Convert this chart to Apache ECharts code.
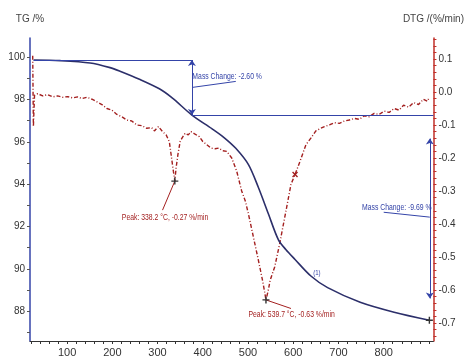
<!DOCTYPE html>
<html>
<head>
<meta charset="utf-8">
<script src="https://cdn.jsdelivr.net/npm/echarts@6/dist/echarts.min.js"></script>
<style>html,body{margin:0;padding:0;background:#fff}#c{width:467px;height:358px}</style>
</head>
<body>
<div id="c"></div>
<script>
// Temperature (°C) and TG (%)
const tgTemp = [26, 85, 151, 195, 217, 260, 304, 333, 376, 420, 447, 473, 501, 523, 545, 567, 584, 604, 639, 676, 748, 823, 901];
const tgVal  = [99.86, 99.83, 99.72, 99.50, 99.33, 98.95, 98.50, 98.06, 97.26, 96.62, 96.20, 95.69, 94.92, 93.84, 92.60, 91.38, 90.90, 90.44, 89.66, 89.11, 88.42, 87.95, 87.57];
// Temperature (°C) and DTG (%/min)
const dtgTemp = [24, 25.5, 28, 35, 46, 57, 68, 79, 90, 101, 112, 123, 133, 144, 155, 166, 177, 188, 199, 210, 221, 232, 243, 254, 265, 276, 287, 293, 302, 311, 319, 326, 330, 335, 338.2, 341, 345, 350, 354, 361, 368, 374, 383, 392, 400, 409, 418, 427, 435, 444, 453, 464, 475, 486, 494, 501, 512, 523, 532, 536, 539.7, 545, 549, 559, 570, 584, 595, 604, 615, 628, 639, 650, 661, 669, 680, 691, 702, 713, 724, 735, 746, 757, 768, 779, 790, 801, 812, 823, 834, 844, 855, 866, 877, 888, 897, 901];
const dtgVal  = [0.11, -0.105, -0.01, -0.005, -0.012, -0.008, -0.015, -0.012, -0.016, -0.014, -0.018, -0.015, -0.02, -0.016, -0.022, -0.03, -0.038, -0.05, -0.055, -0.068, -0.075, -0.085, -0.088, -0.1, -0.102, -0.11, -0.108, -0.118, -0.105, -0.12, -0.13, -0.15, -0.19, -0.24, -0.27, -0.23, -0.19, -0.15, -0.14, -0.125, -0.13, -0.12, -0.128, -0.135, -0.15, -0.16, -0.17, -0.172, -0.17, -0.178, -0.18, -0.2, -0.24, -0.30, -0.33, -0.37, -0.44, -0.51, -0.57, -0.60, -0.63, -0.60, -0.57, -0.53, -0.46, -0.36, -0.28, -0.25, -0.21, -0.16, -0.14, -0.118, -0.11, -0.105, -0.1, -0.093, -0.095, -0.088, -0.085, -0.08, -0.083, -0.072, -0.075, -0.065, -0.068, -0.058, -0.062, -0.05, -0.055, -0.04, -0.046, -0.032, -0.038, -0.022, -0.028, -0.015];
// Tick labels
const xLabels = [100, 200, 300, 400, 500, 600, 700, 800];
const tgLabels = [88, 90, 92, 94, 96, 98, 100];
const dtgLabels = [-0.7, -0.6, -0.5, -0.4, -0.3, -0.2, -0.1, 0.0, 0.1];
// Annotation values
const peak1 = [338.2, -0.27];
const peak2 = [539.7, -0.63];
const mass1 = { t: 376, from: 99.86, to: 97.26, text: 'Mass Change: -2.60 %' };
const mass2 = { t: 902, text: 'Mass Change: -9.69 %' };

const xTicks = []; for (let v = 20; v <= 900; v += 20) xTicks.push(v);
const tgTicks = []; for (let v = 87; v <= 100; v += 1) tgTicks.push(v);
const dtgTicks = []; for (let i = -37; i <= 8; i++) dtgTicks.push(+(i * 0.02).toFixed(2));

const BLUE = '#3444a8', RED = '#a31f1f', NAVY = '#2c2f6a';
const FONT = 'Arial, "Liberation Sans", sans-serif';
const PLUS = 'path://M4,0H6V4H10V6H6V10H4V6H0V4H4Z';

const tgData = tgTemp.map((t, i) => [t, tgVal[i]]);
const dtgData = dtgTemp.map((t, i) => [t, dtgVal[i]]);

function seg(a, b, s0, s1) { return [{ coord: a, symbol: s0 || 'none' }, { coord: b, symbol: s1 || 'none' }]; }
function mark(coord, color, rot) {
  return { coord: coord, symbol: PLUS, symbolSize: 7, symbolRotate: rot || 0, itemStyle: { color: color }, label: { show: false } };
}

const chart = echarts.init(document.getElementById('c'));
chart.setOption({
  animation: false,
  grid: { left: 30, right: 30, top: 38, bottom: 12 },
  xAxis: {
    type: 'value', min: 18, max: 910,
    axisLine: { onZero: false, lineStyle: { color: '#333', width: 1 } },
    axisTick: { customValues: xTicks, length: 3, lineStyle: { color: '#333' } },
    axisLabel: { customValues: xLabels, color: '#333', fontSize: 11, margin: 6, fontFamily: FONT },
    splitLine: { show: false }
  },
  yAxis: [{
    type: 'value', min: 86.59, max: 100.9, position: 'left',
    name: 'TG /%', nameLocation: 'end', nameGap: 14,
    nameTextStyle: { color: '#444', fontSize: 10, fontFamily: FONT, align: 'center' },
    axisLine: { show: true, onZero: false, lineStyle: { color: BLUE, width: 1.5 } },
    axisTick: { show: true, customValues: tgTicks, length: 3, lineStyle: { color: '#555' } },
    axisLabel: { customValues: tgLabels, color: '#333', fontSize: 10, margin: 5, fontFamily: FONT },
    splitLine: { show: false }
  }, {
    type: 'value', min: -0.7545, max: 0.1635, position: 'right',
    name: 'DTG /(%/min)', nameLocation: 'end', nameGap: 14,
    nameTextStyle: { color: '#444', fontSize: 10, fontFamily: FONT, align: 'center' },
    axisLine: { show: true, onZero: false, lineStyle: { color: '#c0302a', width: 1.5 } },
    axisTick: { show: true, customValues: dtgTicks, length: 3, lineStyle: { color: '#c0302a' } },
    axisLabel: { customValues: dtgLabels, color: '#333', fontSize: 10, margin: 5, fontFamily: FONT,
      formatter: v => (Math.abs(v) < 1e-9 ? 0 : v).toFixed(1) },
    splitLine: { show: false }
  }],
  series: [{
    name: 'TG', type: 'line', yAxisIndex: 0, data: tgData, smooth: 0.3, showSymbol: false,
    lineStyle: { color: NAVY, width: 1.6 }, z: 3,
    markLine: {
      silent: true, symbolSize: 6, label: { show: false },
      lineStyle: { color: BLUE, width: 1, type: 'solid' },
      data: [
        seg([26, mass1.from], [mass1.t, mass1.from]),
        seg([mass1.t, mass1.from], [mass1.t, mass1.to], 'arrow', 'arrow'),
        seg([mass1.t, mass1.to], [910, mass1.to]),
        seg([mass2.t, 96.15], [mass2.t, 88.6], 'arrow', 'arrow'),
        seg([378, 98.57], [473, 98.85]),
        seg([800, 92.67], [902, 92.44])
      ]
    },
    markPoint: { silent: true, data: [ mark([901, 87.57], '#333') ] }
  }, {
    name: 'DTG', type: 'line', yAxisIndex: 1, data: dtgData, smooth: false, showSymbol: false,
    lineStyle: { color: RED, width: 1.4, type: [4, 2, 1, 2] }, z: 2,
    markLine: {
      silent: true, symbol: 'none', label: { show: false },
      lineStyle: { color: RED, width: 1, type: 'solid' },
      data: [
        seg(peak1, [311, -0.358]),
        seg(peak2, [595, -0.656])
      ]
    },
    markPoint: {
      silent: true,
      data: [ mark(peak1, '#333'), mark(peak2, '#333'), mark([604, -0.25], RED, 45) ]
    }
  }]
});

// Annotation texts placed via the chart's own scales (condensed with scaleX)
const notes = [
  { coord: [377, 99.08], axis: 0, text: mass1.text, color: BLUE, size: 9 },
  { coord: [752, 92.9], axis: 0, text: mass2.text, color: BLUE, size: 9 },
  { coord: [644, 89.8], axis: 0, text: '(1)', color: BLUE, size: 8 },
  { coord: [221, -0.379], axis: 1, text: 'Peak: ' + peak1[0].toFixed(1) + ' °C, ' + peak1[1].toFixed(2) + ' %/min', color: RED, size: 9 },
  { coord: [501, -0.675], axis: 1, text: 'Peak: ' + peak2[0].toFixed(1) + ' °C, ' + peak2[1].toFixed(2) + ' %/min', color: RED, size: 9 }
];
chart.setOption({
  graphic: notes.map(n => {
    const p = chart.convertToPixel({ xAxisIndex: 0, yAxisIndex: n.axis }, n.coord);
    return { type: 'text', x: p[0], y: p[1], scaleX: 0.76, silent: true, z: 10,
      style: { text: n.text, fill: n.color, font: n.size + 'px ' + FONT, verticalAlign: 'middle', align: 'left' } };
  })
});
</script>
</body>
</html>
